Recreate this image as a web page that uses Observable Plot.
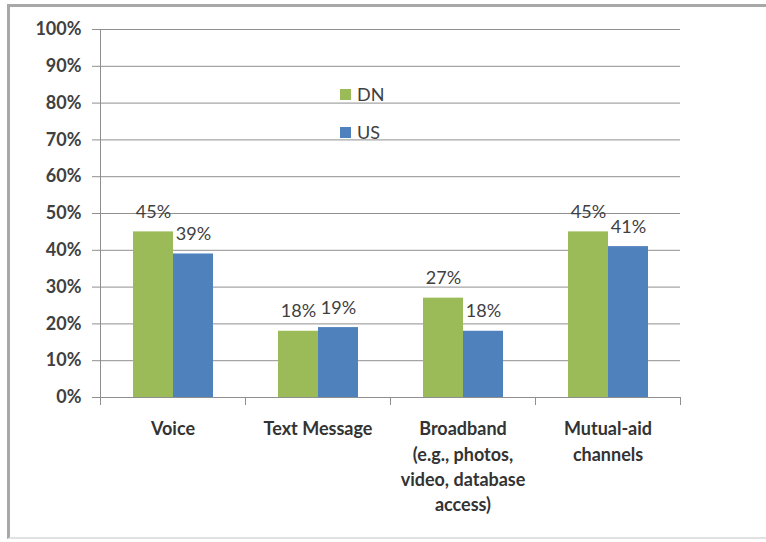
<!DOCTYPE html>
<html>
<head>
<meta charset="utf-8">
<script src="https://cdn.jsdelivr.net/npm/d3@7"></script>
<script src="https://cdn.jsdelivr.net/npm/@observablehq/plot@0.6"></script>
<style>
  html, body { margin: 0; padding: 0; background: #fff; }
  #wrap { position: relative; width: 766px; height: 542px; overflow: hidden; font-family: Lato, "Open Sans", sans-serif; }
  #border { position: absolute; left: 7px; top: 4px; width: 800px; height: 535px; border-left: 3px solid #a8a8a8; border-top: 3px solid #a8a8a8; border-bottom: 2px solid #e2e2e2; box-sizing: border-box; pointer-events: none; }
  #legend { position: absolute; left: 340px; top: 83px; color: #404040; font-size: 18px; }
  .item { position: absolute; left: 0; display: flex; align-items: center; white-space: nowrap; }
  .sw { width: 11px; height: 11px; margin-right: 6px; }
</style>
</head>
<body>
<div id="wrap">
  <div id="chart"></div>
  <div id="border"></div>
  <div id="legend"></div>
</div>
<script>
const categories = ["Voice", "Text Message", "Broadband", "Mutual-aid channels"];
const categoryLabels = ["Voice", "Text Message", "Broadband\n(e.g., photos,\nvideo, database\naccess)", "Mutual-aid\nchannels"];
const seriesNames = ["DN", "US"];
const seriesColors = ["#9BBB59", "#4F81BD"];
const dnValues = [45, 18, 27, 45];
const usValues = [39, 19, 18, 41];
const yTicks = [0, 10, 20, 30, 40, 50, 60, 70, 80, 90, 100];

const rows = [];
categories.forEach((c, i) => {
  rows.push({category: c, series: "DN", value: dnValues[i]});
  rows.push({category: c, series: "US", value: usValues[i]});
});

const textColor = "#404040";
const lineColor = "#8f8f8f";
const labelMap = new Map(categories.map((c, i) => [c, categoryLabels[i]]));

const chart = Plot.plot({
  width: 766,
  height: 542,
  marginLeft: 100,
  marginRight: 86,
  marginTop: 29,
  marginBottom: 145,
  style: {fontFamily: "Lato, 'Open Sans', sans-serif", background: "transparent"},
  fx: {domain: categories, padding: 0, label: null, axis: null},
  x: {domain: seriesNames, paddingInner: 0, paddingOuter: 0.77, axis: null},
  y: {domain: [0, 100], axis: null},
  color: {domain: seriesNames, range: seriesColors},
  marks: [
    Plot.gridY(yTicks, {stroke: lineColor, strokeOpacity: 1}),
    Plot.axisY(yTicks, {
      anchor: "left", tickSize: 8, tickPadding: 11, stroke: lineColor,
      tickFormat: d => d + "%", fontSize: 18, fontWeight: "bold", fill: textColor, label: null
    }),
    Plot.frame({anchor: "left", stroke: lineColor, facetAnchor: "left"}),
    Plot.frame({anchor: "left", stroke: lineColor, insetTop: 368, insetBottom: -7}),
    Plot.frame({anchor: "right", stroke: lineColor, insetTop: 368, insetBottom: -7}),
    Plot.barY(rows, {fx: "category", x: "series", y: "value", fill: "series"}),
    Plot.ruleY([0], {stroke: lineColor}),
    Plot.text(rows, {
      fx: "category", x: "series", y: "value", text: d => d.value + "%",
      lineAnchor: "bottom", dy: -14, fontSize: 18, fill: textColor
    }),
    Plot.axisFx({
      anchor: "bottom", tickSize: 0, tickPadding: 20, lineHeight: 1.4,
      tickFormat: d => labelMap.get(d), fontSize: 18, fontWeight: "bold", fill: "#333", label: null
    })
  ]
});
document.getElementById("chart").appendChild(chart);

const legend = document.getElementById("legend");
seriesNames.forEach((s, i) => {
  const item = document.createElement("div");
  item.className = "item";
  item.style.top = (i * 38) + "px";
  const sw = document.createElement("div");
  sw.className = "sw";
  sw.style.background = seriesColors[i];
  const t = document.createElement("span");
  t.textContent = s;
  item.appendChild(sw);
  item.appendChild(t);
  legend.appendChild(item);
});
</script>
</body>
</html>
